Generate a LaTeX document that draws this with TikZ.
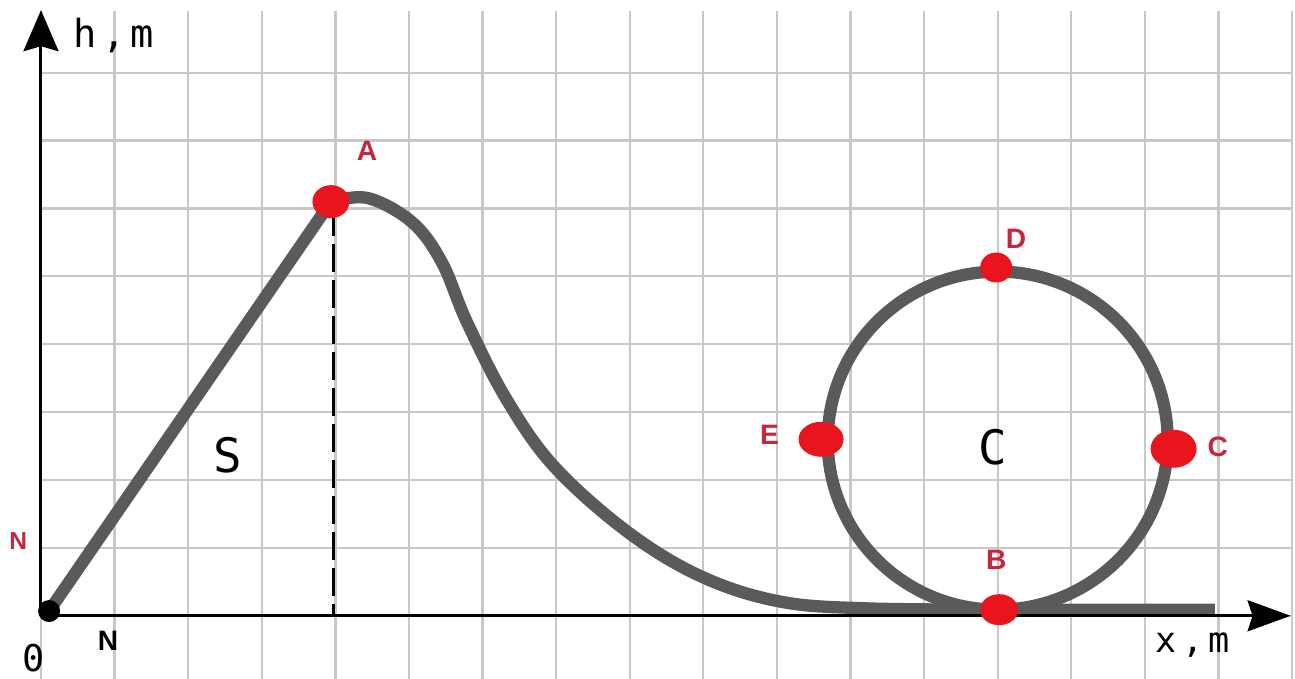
\documentclass[tikz,border=0pt]{standalone}
\usepackage{fontspec}
\usepackage{tikz}
\usetikzlibrary{arrows.meta,shapes.geometric}
\newfontfamily\monof{DejaVu Sans Mono}
\newfontfamily\labf{Liberation Sans}
\newcommand{\unitsp}{\hspace{3pt}}
\definecolor{trackgray}{HTML}{5A5A5A}
\definecolor{gridgray}{HTML}{C8C8C8}
\definecolor{dotred}{HTML}{E8141E}
\definecolor{labred}{HTML}{C4283A}
\tikzset{
  grd/.style={gridgray,line width=1.3pt},
  axisln/.style={black,line width=1.7pt},
  track/.style={trackgray,line width=7pt,line join=round},
  dashln/.style={black,line width=1.8pt,dash pattern=on 0.55cm off 0.17cm},
  rdot/.style={draw=none,fill=dotred,shape=ellipse,inner sep=0pt},
  odotst/.style={circle,fill=black,minimum size=0.44cm,inner sep=0pt},
  rlab/.style={font=\labf\bfseries\fontsize{16}{19}\selectfont,text=labred},
  blab/.style={font=\labf\bfseries\fontsize{16}{19}\selectfont,text=black},
  unitlab/.style={font=\monof\fontsize{22}{26}\selectfont},
  biglab/.style={font=\monof\fontsize{27}{32}\selectfont},
}
\begin{document}
\begin{tikzpicture}[x=1.472cm,y=1.358cm]
  \useasboundingbox (-0.557,-0.928) rectangle (17.04,9.07);
  % grid
  \draw[grd,step={(1,1)}] (0,-0.928) grid (17,8.91);
  \coordinate (O) at (0,0);
  \coordinate (ytip) at (0,8.92);
  \coordinate (xtip) at (16.98,0);
  \coordinate (pO) at (0.11,0.07);
  \coordinate (pA) at (3.94,6.10);
  \coordinate (pB) at (13.02,0.09);
  \coordinate (foot) at (3.98,0);
  \coordinate (tend) at (15.95,0.09);
  \coordinate (loopc) at (13.0,2.58);
  % track
  \draw[dashln] (3.98,6.0) -- (foot);
  \draw[track] (pO) -- (pA);
  \draw[track] plot[smooth,tension=0.6] coordinates {(pA) (4.45,6.15) (5.05,5.79) (5.45,5.2) (5.79,4.32) (6.33,3.18) (6.98,2.19) (7.99,1.22) (8.99,0.57) (10.04,0.21) (11.2,0.11) (pB)} -- (tend);
  \draw[track] (loopc) circle[x radius=2.31,y radius=2.49];
  % axes
  \draw[axisln,-{Stealth[length=0.82cm,width=0.7cm,inset=0.1cm]}] (O) -- (ytip);
  \draw[axisln,-{Stealth[length=0.86cm,width=0.62cm,inset=0.1cm]}] (O) -- (xtip);
  % points
  \node[odotst] (odot) at (pO) {};
  \node[rdot,minimum width=0.74cm,minimum height=0.66cm] (A) at (pA) {};
  \node[rdot,minimum width=0.64cm,minimum height=0.60cm] (D) at (12.98,5.13) {};
  \node[rdot,minimum width=0.90cm,minimum height=0.70cm] (E) at (10.60,2.60) {};
  \node[rdot,minimum width=0.92cm,minimum height=0.76cm] (C) at (15.39,2.46) {};
  \node[rdot,minimum width=0.76cm,minimum height=0.62cm] (B) at (pB) {};
  % labels
  \node[rlab] (labA) at (4.43,6.85) {A};
  \node[rlab] (labD) at (13.25,5.55) {D};
  \node[rlab] (labE) at (9.90,2.66) {E};
  \node[rlab] (labC) at (15.99,2.49) {C};
  \node[rlab] (labB) at (12.98,0.82) {B};
  \node[rlab,font=\labf\bfseries\fontsize{14}{17}\selectfont] (labNy) at (-0.31,1.10) {N};
  \node[blab] (labNx) at (0.91,-0.37) {N};
  \node[biglab] (labS) at (2.54,2.37) {S};
  \node[biglab] (labLoop) at (12.93,2.49) {C};
  \node[unitlab] (labh) at (0.99,8.54) {h\unitsp,\unitsp m};
  \node[unitlab,font=\monof\fontsize{20}{24}\selectfont] (labx) at (15.65,-0.43) {x\unitsp,\unitsp m};
  \node[unitlab,inner sep=0pt,font=\monof\fontsize{21}{24}\selectfont] (labO) at (-0.10,-0.62) {0};
\end{tikzpicture}
\end{document}
